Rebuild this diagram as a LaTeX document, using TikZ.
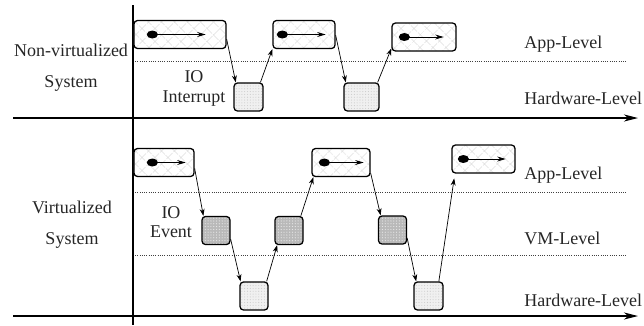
\documentclass[tikz,border=0pt]{standalone}
\usepackage{fontspec}
\setmainfont{Liberation Serif}
\usetikzlibrary{arrows.meta,patterns,patterns.meta}

\begin{document}
\begin{tikzpicture}[x=0.025cm,y=-0.025cm,
  font=\fontsize{12.8}{15}\selectfont, text=black!85,
  box/.style={draw, line width=0.9pt, rounded corners=2.5pt, inner sep=0pt,
    minimum height=0.7cm},
  appbox/.style={box, preaction={fill=white},
    preaction={pattern={Lines[angle=45,distance=6.5pt,line width=0.3pt]}, pattern color=gray!35},
    preaction={pattern={Lines[angle=-45,distance=6.5pt,line width=0.3pt]}, pattern color=gray!35}},
  vmbox/.style={box, minimum width=0.7cm, preaction={fill=gray!55},
    pattern={Dots[distance=2pt,radius=0.45pt]}, pattern color=gray!20},
  hwbox/.style={box, preaction={fill=gray!12},
    pattern={Dots[distance=2pt,radius=0.4pt]}, pattern color=gray!40},
  flow/.style={-{Stealth[length=5pt,width=3.5pt]}, line width=0.5pt},
  inner/.style={-{Stealth[length=6pt,width=3.5pt]}, line width=0.6pt},
  axis/.style={-{Stealth[length=10pt,width=5pt,inset=3pt]}, line width=0.8pt},
  level/.style={densely dotted, line width=0.6pt, black!75},
  tag/.style={inner sep=0pt, anchor=west},
  side/.style={align=center, inner sep=0pt}]
\useasboundingbox (0,0) rectangle (644,325);

% axes and level separators
\draw[line width=0.8pt] (133,5) -- (133,325);
\draw[axis] (13,118) -- (638,118);
\draw[axis] (13,316) -- (638,316);
\foreach \y in {61,192,255}
	\draw[level] (135,\y) -- (627,\y);

% row labels
\node[side] (nonvirt) at (71,68) {Non-virtualized\\[7pt]System};
\node[side] (virt) at (72,225) {Virtualized\\[7pt]System};
\node[side, font=\fontsize{12.8}{14.2}\selectfont] (intr) at (194,88) {IO\\Interrupt};
\node[side, font=\fontsize{12.8}{13.5}\selectfont] (event) at (171,222.5) {IO\\Event};

% level labels
\node[tag] (app1) at (524,44) {App-Level};
\node[tag] (hw1) at (524,98) {Hardware-Level};
\node[tag] (app2) at (524,175) {App-Level};
\node[tag] (vm2) at (524,238) {VM-Level};
\node[tag] (hw2) at (524,300) {Hardware-Level};

% non-virtualized
\node[appbox, minimum width=2.3cm] (a1) at (180,34.5) {};
\node[appbox, minimum width=1.55cm] (a2) at (304,34.5) {};
\node[appbox, minimum width=1.6cm] (a3) at (424,37) {};
\node[hwbox, minimum width=0.725cm] (h1) at (248.5,97) {};
\node[hwbox, minimum width=0.875cm] (h2) at (361.5,97) {};

% virtualized
\node[appbox, minimum width=1.5cm] (b1) at (164,162.5) {};
\node[appbox, minimum width=1.45cm] (b2) at (341,162.5) {};
\node[appbox, minimum width=1.575cm] (b3) at (483.5,159) {};
\node[vmbox] (v1) at (216,230.5) {};
\node[vmbox] (v2) at (289,230.5) {};
\node[vmbox] (v3) at (392.5,230) {};
\node[hwbox, minimum width=0.7cm] (g1) at (254,296) {};
\node[hwbox, minimum width=0.725cm] (g2) at (428.5,296) {};

\foreach \n/\l/\r in {a1/0.475/0.525, a2/0.25/0.25, a3/0.325/0.325,
                      b1/0.475/0.225, b2/0.325/0.175, b3/0.3/0.25}{
	\fill ([xshift=\l cm]\n.west) ellipse [x radius=0.14cm, y radius=0.1cm];
	\draw[inner] ([xshift=\l cm]\n.west) -- ([xshift=-\r cm]\n.east);
}

\draw[flow] ([yshift=0.25cm]a1.south east) -- ([xshift=0.06cm]h1.north west);
\draw[flow] ([xshift=-0.08cm]h1.north east) -- (a2.south west);
\draw[flow] ([yshift=0.35cm]a2.south east) -- ([xshift=0.06cm]h2.north west);
\draw[flow] ([xshift=-0.05cm]h2.north east) -- ([yshift=0.08cm]a3.south west);

\draw[flow] ([yshift=0.22cm]b1.south east) -- ([xshift=0.05cm]v1.north west);
\draw[flow] ([yshift=0.15cm]v1.south east) -- ([xshift=0.03cm]g1.north west);
\draw[flow] ([xshift=-0.05cm]g1.north east) -- ([xshift=0.07cm]v2.south west);
\draw[flow] ([xshift=-0.07cm]v2.north east) -- ([xshift=0.05cm]b2.south west);
\draw[flow] ([yshift=0.1cm]b2.south east) -- ([xshift=0.07cm]v3.north west);
\draw[flow] ([yshift=0.17cm]v3.south east) -- ([xshift=0.07cm]g2.north west);
\draw[flow] ([xshift=-0.12cm]g2.north east) -- ([xshift=0.07cm,yshift=-0.12cm]b3.south west);
\end{tikzpicture}
\end{document}
